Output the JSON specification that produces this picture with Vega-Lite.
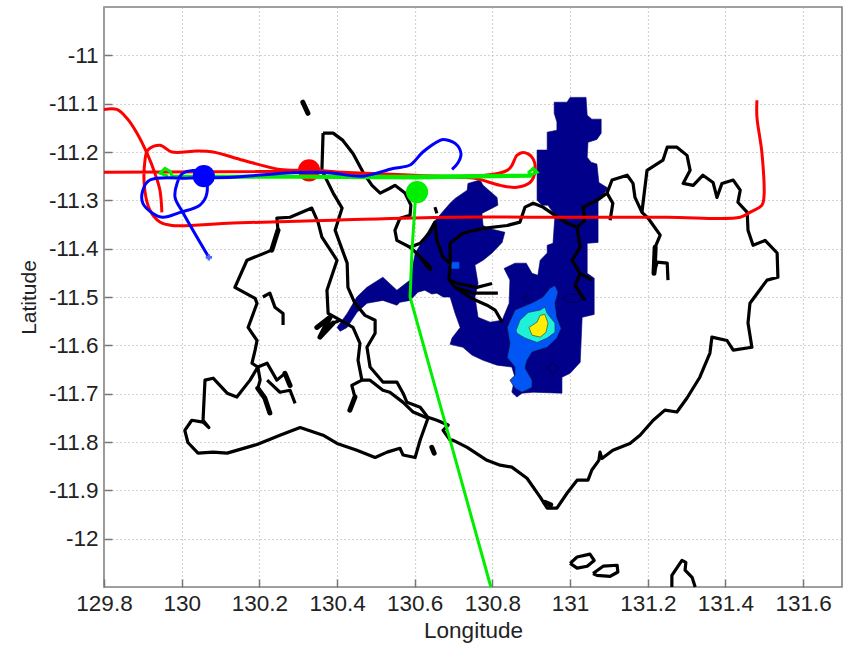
{
"$schema":"https://vega.github.io/schema/vega-lite/v6.json",
"width":738,"height":580,
"autosize":{"type":"none"},
"padding":{"left":104,"top":7,"right":4,"bottom":58},
"background":"white",
"config":{"view":{"stroke":"#808080","strokeWidth":1.6},"font":"Liberation Sans"},
"datasets":{
"regions":[
{"s":"navy","lon":130.959,"lat":-11.097},{"s":"navy","lon":130.992,"lat":-11.097},{"s":"navy","lon":131.000,"lat":-11.087},{"s":"navy","lon":131.041,"lat":-11.087},{"s":"navy","lon":131.044,"lat":-11.124},{"s":"navy","lon":131.056,"lat":-11.132},{"s":"navy","lon":131.080,"lat":-11.132},{"s":"navy","lon":131.080,"lat":-11.161},{"s":"navy","lon":131.069,"lat":-11.174},{"s":"navy","lon":131.046,"lat":-11.180},{"s":"navy","lon":131.044,"lat":-11.211},{"s":"navy","lon":131.054,"lat":-11.221},{"s":"navy","lon":131.069,"lat":-11.225},{"s":"navy","lon":131.074,"lat":-11.263},{"s":"navy","lon":131.098,"lat":-11.275},{"s":"navy","lon":131.072,"lat":-11.300},{"s":"navy","lon":131.072,"lat":-11.387},{"s":"navy","lon":131.044,"lat":-11.389},{"s":"navy","lon":131.044,"lat":-11.451},{"s":"navy","lon":131.062,"lat":-11.461},{"s":"navy","lon":131.062,"lat":-11.536},{"s":"navy","lon":131.031,"lat":-11.542},{"s":"navy","lon":131.026,"lat":-11.635},{"s":"navy","lon":131.000,"lat":-11.658},{"s":"navy","lon":130.979,"lat":-11.666},{"s":"navy","lon":130.979,"lat":-11.699},{"s":"navy","lon":130.905,"lat":-11.697},{"s":"navy","lon":130.876,"lat":-11.699},{"s":"navy","lon":130.863,"lat":-11.707},{"s":"navy","lon":130.850,"lat":-11.697},{"s":"navy","lon":130.858,"lat":-11.666},{"s":"navy","lon":130.850,"lat":-11.645},{"s":"navy","lon":130.812,"lat":-11.641},{"s":"navy","lon":130.776,"lat":-11.631},{"s":"navy","lon":130.747,"lat":-11.620},{"s":"navy","lon":130.724,"lat":-11.604},{"s":"navy","lon":130.691,"lat":-11.598},{"s":"navy","lon":130.696,"lat":-11.585},{"s":"navy","lon":130.717,"lat":-11.563},{"s":"navy","lon":130.704,"lat":-11.534},{"s":"navy","lon":130.691,"lat":-11.500},{"s":"navy","lon":130.673,"lat":-11.500},{"s":"navy","lon":130.657,"lat":-11.492},{"s":"navy","lon":130.644,"lat":-11.494},{"s":"navy","lon":130.626,"lat":-11.486},{"s":"navy","lon":130.608,"lat":-11.490},{"s":"navy","lon":130.588,"lat":-11.507},{"s":"navy","lon":130.562,"lat":-11.511},{"s":"navy","lon":130.554,"lat":-11.517},{"s":"navy","lon":130.518,"lat":-11.507},{"s":"navy","lon":130.477,"lat":-11.513},{"s":"navy","lon":130.451,"lat":-11.532},{"s":"navy","lon":130.426,"lat":-11.563},{"s":"navy","lon":130.408,"lat":-11.571},{"s":"navy","lon":130.400,"lat":-11.563},{"s":"navy","lon":130.426,"lat":-11.534},{"s":"navy","lon":130.451,"lat":-11.500},{"s":"navy","lon":130.477,"lat":-11.480},{"s":"navy","lon":130.518,"lat":-11.459},{"s":"navy","lon":130.554,"lat":-11.486},{"s":"navy","lon":130.588,"lat":-11.465},{"s":"navy","lon":130.601,"lat":-11.410},{"s":"navy","lon":130.647,"lat":-11.347},{"s":"navy","lon":130.691,"lat":-11.306},{"s":"navy","lon":130.704,"lat":-11.296},{"s":"navy","lon":130.735,"lat":-11.279},{"s":"navy","lon":130.737,"lat":-11.265},{"s":"navy","lon":130.768,"lat":-11.258},{"s":"navy","lon":130.776,"lat":-11.269},{"s":"navy","lon":130.812,"lat":-11.294},{"s":"navy","lon":130.814,"lat":-11.310},{"s":"navy","lon":130.773,"lat":-11.327},{"s":"navy","lon":130.776,"lat":-11.352},{"s":"navy","lon":130.789,"lat":-11.358},{"s":"navy","lon":130.832,"lat":-11.366},{"s":"navy","lon":130.825,"lat":-11.387},{"s":"navy","lon":130.799,"lat":-11.409},{"s":"navy","lon":130.776,"lat":-11.424},{"s":"navy","lon":130.755,"lat":-11.434},{"s":"navy","lon":130.763,"lat":-11.472},{"s":"navy","lon":130.755,"lat":-11.500},{"s":"navy","lon":130.763,"lat":-11.542},{"s":"navy","lon":130.794,"lat":-11.552},{"s":"navy","lon":130.825,"lat":-11.548},{"s":"navy","lon":130.843,"lat":-11.513},{"s":"navy","lon":130.845,"lat":-11.465},{"s":"navy","lon":130.830,"lat":-11.441},{"s":"navy","lon":130.858,"lat":-11.430},{"s":"navy","lon":130.887,"lat":-11.430},{"s":"navy","lon":130.902,"lat":-11.451},{"s":"navy","lon":130.917,"lat":-11.455},{"s":"navy","lon":130.923,"lat":-11.424},{"s":"navy","lon":130.941,"lat":-11.409},{"s":"navy","lon":130.941,"lat":-11.393},{"s":"navy","lon":130.956,"lat":-11.389},{"s":"navy","lon":130.961,"lat":-11.331},{"s":"navy","lon":130.943,"lat":-11.310},{"s":"navy","lon":130.928,"lat":-11.310},{"s":"navy","lon":130.915,"lat":-11.300},{"s":"navy","lon":130.915,"lat":-11.196},{"s":"navy","lon":130.941,"lat":-11.196},{"s":"navy","lon":130.941,"lat":-11.159},{"s":"navy","lon":130.966,"lat":-11.155},{"s":"navy","lon":130.966,"lat":-11.138},{"s":"navy","lon":130.959,"lat":-11.120},{"s":"navy","lon":130.959,"lat":-11.097},
{"s":"blue","lon":130.838,"lat":-11.563},{"s":"blue","lon":130.858,"lat":-11.527},{"s":"blue","lon":130.905,"lat":-11.511},{"s":"blue","lon":130.930,"lat":-11.500},{"s":"blue","lon":130.948,"lat":-11.482},{"s":"blue","lon":130.961,"lat":-11.476},{"s":"blue","lon":130.969,"lat":-11.490},{"s":"blue","lon":130.961,"lat":-11.513},{"s":"blue","lon":130.966,"lat":-11.542},{"s":"blue","lon":130.977,"lat":-11.565},{"s":"blue","lon":130.966,"lat":-11.585},{"s":"blue","lon":130.941,"lat":-11.604},{"s":"blue","lon":130.902,"lat":-11.614},{"s":"blue","lon":130.889,"lat":-11.631},{"s":"blue","lon":130.884,"lat":-11.647},{"s":"blue","lon":130.902,"lat":-11.672},{"s":"blue","lon":130.902,"lat":-11.687},{"s":"blue","lon":130.876,"lat":-11.697},{"s":"blue","lon":130.858,"lat":-11.689},{"s":"blue","lon":130.845,"lat":-11.672},{"s":"blue","lon":130.858,"lat":-11.662},{"s":"blue","lon":130.858,"lat":-11.645},{"s":"blue","lon":130.838,"lat":-11.625},{"s":"blue","lon":130.845,"lat":-11.596},{"s":"blue","lon":130.838,"lat":-11.563},
{"s":"blue2","lon":130.686,"lat":-11.432},{"s":"blue2","lon":130.696,"lat":-11.428},{"s":"blue2","lon":130.714,"lat":-11.428},{"s":"blue2","lon":130.714,"lat":-11.441},{"s":"blue2","lon":130.696,"lat":-11.441},{"s":"blue2","lon":130.686,"lat":-11.432},
{"s":"cyan","lon":130.861,"lat":-11.569},{"s":"cyan","lon":130.871,"lat":-11.548},{"s":"cyan","lon":130.892,"lat":-11.532},{"s":"cyan","lon":130.923,"lat":-11.527},{"s":"cyan","lon":130.935,"lat":-11.521},{"s":"cyan","lon":130.941,"lat":-11.534},{"s":"cyan","lon":130.961,"lat":-11.554},{"s":"cyan","lon":130.961,"lat":-11.573},{"s":"cyan","lon":130.941,"lat":-11.585},{"s":"cyan","lon":130.915,"lat":-11.594},{"s":"cyan","lon":130.884,"lat":-11.585},{"s":"cyan","lon":130.863,"lat":-11.575},{"s":"cyan","lon":130.861,"lat":-11.569},
{"s":"yellow","lon":130.894,"lat":-11.563},{"s":"yellow","lon":130.915,"lat":-11.552},{"s":"yellow","lon":130.923,"lat":-11.538},{"s":"yellow","lon":130.935,"lat":-11.536},{"s":"yellow","lon":130.943,"lat":-11.554},{"s":"yellow","lon":130.938,"lat":-11.573},{"s":"yellow","lon":130.923,"lat":-11.583},{"s":"yellow","lon":130.902,"lat":-11.579},{"s":"yellow","lon":130.894,"lat":-11.563}
],
"contours":[
{"s":"c1","lon":130.956,"lat":-11.635},{"s":"c1","lon":130.971,"lat":-11.647},{"s":"c1","lon":130.956,"lat":-11.660},{"s":"c1","lon":130.941,"lat":-11.647},{"s":"c1","lon":130.956,"lat":-11.635},
{"s":"c2","lon":130.887,"lat":-11.496},{"s":"c2","lon":130.894,"lat":-11.503},{"s":"c2","lon":130.887,"lat":-11.509},{"s":"c2","lon":130.879,"lat":-11.503},{"s":"c2","lon":130.887,"lat":-11.496},
{"s":"c3","lon":130.995,"lat":-11.494},{"s":"c3","lon":131.020,"lat":-11.494},{"s":"c3","lon":131.031,"lat":-11.503},{"s":"c3","lon":131.020,"lat":-11.511},{"s":"c3","lon":130.995,"lat":-11.511},{"s":"c3","lon":130.982,"lat":-11.503},{"s":"c3","lon":130.995,"lat":-11.494}
],
"coast":[
{"s":"b","lon":130.634,"lat":-11.751},{"s":"b","lon":130.614,"lat":-11.796},{"s":"b","lon":130.601,"lat":-11.832},{"s":"b","lon":130.570,"lat":-11.827},{"s":"b","lon":130.562,"lat":-11.813},{"s":"b","lon":130.529,"lat":-11.821},{"s":"b","lon":130.498,"lat":-11.832},{"s":"b","lon":130.451,"lat":-11.817},{"s":"b","lon":130.400,"lat":-11.803},{"s":"b","lon":130.364,"lat":-11.786},{"s":"b","lon":130.305,"lat":-11.770},{"s":"b","lon":130.253,"lat":-11.786},{"s":"b","lon":130.194,"lat":-11.805},{"s":"b","lon":130.117,"lat":-11.823},{"s":"b","lon":130.081,"lat":-11.821},{"s":"b","lon":130.042,"lat":-11.823},{"s":"b","lon":130.016,"lat":-11.801},{"s":"b","lon":130.008,"lat":-11.776},{"s":"b","lon":130.026,"lat":-11.755},{"s":"b","lon":130.055,"lat":-11.759},{"s":"b","lon":130.070,"lat":-11.770},{"s":"b","lon":130.055,"lat":-11.755},{"s":"b","lon":130.060,"lat":-11.672},{"s":"b","lon":130.081,"lat":-11.668},{"s":"b","lon":130.117,"lat":-11.699},{"s":"b","lon":130.142,"lat":-11.707},{"s":"b","lon":130.176,"lat":-11.672},{"s":"b","lon":130.196,"lat":-11.645},{"s":"b","lon":130.181,"lat":-11.637},{"s":"b","lon":130.189,"lat":-11.610},{"s":"b","lon":130.194,"lat":-11.590},{"s":"b","lon":130.171,"lat":-11.563},{"s":"b","lon":130.194,"lat":-11.513},{"s":"b","lon":130.189,"lat":-11.503},{"s":"b","lon":130.137,"lat":-11.480},{"s":"b","lon":130.168,"lat":-11.424},{"s":"b","lon":130.232,"lat":-11.403},{"s":"b","lon":130.248,"lat":-11.362},{"s":"b","lon":130.245,"lat":-11.337},{"s":"b","lon":130.279,"lat":-11.335},{"s":"b","lon":130.335,"lat":-11.316},{"s":"b","lon":130.351,"lat":-11.345},{"s":"b","lon":130.361,"lat":-11.376},{"s":"b","lon":130.400,"lat":-11.424},{"s":"b","lon":130.374,"lat":-11.486},{"s":"b","lon":130.377,"lat":-11.534},{"s":"b","lon":130.408,"lat":-11.548},{"s":"b","lon":130.441,"lat":-11.563},{"s":"b","lon":130.459,"lat":-11.596},{"s":"b","lon":130.454,"lat":-11.631},{"s":"b","lon":130.464,"lat":-11.672},{"s":"b","lon":130.485,"lat":-11.672},{"s":"b","lon":130.518,"lat":-11.693},{"s":"b","lon":130.536,"lat":-11.697},{"s":"b","lon":130.570,"lat":-11.718},{"s":"b","lon":130.596,"lat":-11.738},{"s":"b","lon":130.634,"lat":-11.751},
{"s":"m","lon":130.364,"lat":-11.161},{"s":"m","lon":130.390,"lat":-11.161},{"s":"m","lon":130.415,"lat":-11.176},{"s":"m","lon":130.441,"lat":-11.203},{"s":"m","lon":130.467,"lat":-11.242},{"s":"m","lon":130.490,"lat":-11.269},{"s":"m","lon":130.511,"lat":-11.285},{"s":"m","lon":130.536,"lat":-11.275},{"s":"m","lon":130.549,"lat":-11.269},{"s":"m","lon":130.575,"lat":-11.285},{"s":"m","lon":130.590,"lat":-11.310},{"s":"m","lon":130.588,"lat":-11.331},{"s":"m","lon":130.562,"lat":-11.337},{"s":"m","lon":130.549,"lat":-11.362},{"s":"m","lon":130.554,"lat":-11.383},{"s":"m","lon":130.588,"lat":-11.397},{"s":"m","lon":130.614,"lat":-11.389},{"s":"m","lon":130.639,"lat":-11.366},{"s":"m","lon":130.652,"lat":-11.345},{"s":"m","lon":130.657,"lat":-11.383},{"s":"m","lon":130.673,"lat":-11.418},{"s":"m","lon":130.691,"lat":-11.430},{"s":"m","lon":130.688,"lat":-11.465},{"s":"m","lon":130.704,"lat":-11.480},{"s":"m","lon":130.747,"lat":-11.503},
{"s":"m2","lon":130.691,"lat":-11.430},{"s":"m2","lon":130.691,"lat":-11.389},{"s":"m2","lon":130.724,"lat":-11.368},{"s":"m2","lon":130.776,"lat":-11.358},{"s":"m2","lon":130.838,"lat":-11.352},{"s":"m2","lon":130.871,"lat":-11.345},{"s":"m2","lon":130.884,"lat":-11.314},{"s":"m2","lon":130.905,"lat":-11.306},{"s":"m2","lon":130.930,"lat":-11.314},{"s":"m2","lon":130.961,"lat":-11.331},{"s":"m2","lon":130.992,"lat":-11.347},{"s":"m2","lon":131.018,"lat":-11.356},{"s":"m2","lon":131.038,"lat":-11.341},{"s":"m2","lon":131.033,"lat":-11.314},{"s":"m2","lon":131.069,"lat":-11.300},{"s":"m2","lon":131.095,"lat":-11.285},{"s":"m2","lon":131.108,"lat":-11.258},{"s":"m2","lon":131.147,"lat":-11.248},{"s":"m2","lon":131.162,"lat":-11.265},{"s":"m2","lon":131.167,"lat":-11.294},{"s":"m2","lon":131.185,"lat":-11.325},{"s":"m2","lon":131.188,"lat":-11.304},{"s":"m2","lon":131.198,"lat":-11.238},{"s":"m2","lon":131.239,"lat":-11.217},{"s":"m2","lon":131.250,"lat":-11.190},{"s":"m2","lon":131.275,"lat":-11.190},{"s":"m2","lon":131.301,"lat":-11.207},{"s":"m2","lon":131.309,"lat":-11.238},{"s":"m2","lon":131.291,"lat":-11.265},{"s":"m2","lon":131.317,"lat":-11.269},{"s":"m2","lon":131.342,"lat":-11.248},{"s":"m2","lon":131.368,"lat":-11.263},{"s":"m2","lon":131.378,"lat":-11.294},{"s":"m2","lon":131.391,"lat":-11.265},{"s":"m2","lon":131.420,"lat":-11.258},{"s":"m2","lon":131.438,"lat":-11.279},{"s":"m2","lon":131.432,"lat":-11.304},{"s":"m2","lon":131.456,"lat":-11.325},{"s":"m2","lon":131.458,"lat":-11.362},{"s":"m2","lon":131.471,"lat":-11.393},{"s":"m2","lon":131.502,"lat":-11.383},{"s":"m2","lon":131.533,"lat":-11.409},{"s":"m2","lon":131.535,"lat":-11.459},{"s":"m2","lon":131.507,"lat":-11.465},{"s":"m2","lon":131.463,"lat":-11.513},{"s":"m2","lon":131.458,"lat":-11.554},{"s":"m2","lon":131.468,"lat":-11.604},{"s":"m2","lon":131.420,"lat":-11.610},{"s":"m2","lon":131.404,"lat":-11.590},{"s":"m2","lon":131.365,"lat":-11.583},{"s":"m2","lon":131.360,"lat":-11.616},{"s":"m2","lon":131.334,"lat":-11.666},{"s":"m2","lon":131.301,"lat":-11.709},{"s":"m2","lon":131.275,"lat":-11.738},{"s":"m2","lon":131.244,"lat":-11.734},{"s":"m2","lon":131.214,"lat":-11.755},{"s":"m2","lon":131.180,"lat":-11.786},{"s":"m2","lon":131.154,"lat":-11.803},{"s":"m2","lon":131.110,"lat":-11.817},{"s":"m2","lon":131.082,"lat":-11.834},{"s":"m2","lon":131.077,"lat":-11.821},{"s":"m2","lon":131.074,"lat":-11.838},{"s":"m2","lon":131.056,"lat":-11.858},{"s":"m2","lon":131.046,"lat":-11.879},{"s":"m2","lon":131.018,"lat":-11.879},{"s":"m2","lon":130.992,"lat":-11.906},{"s":"m2","lon":130.966,"lat":-11.937},{"s":"m2","lon":130.941,"lat":-11.937},{"s":"m2","lon":130.923,"lat":-11.914},{"s":"m2","lon":130.889,"lat":-11.875},{"s":"m2","lon":130.850,"lat":-11.852},{"s":"m2","lon":130.820,"lat":-11.848},{"s":"m2","lon":130.786,"lat":-11.838},{"s":"m2","lon":130.735,"lat":-11.811},{"s":"m2","lon":130.698,"lat":-11.796},{"s":"m2","lon":130.691,"lat":-11.796},{"s":"m2","lon":130.673,"lat":-11.776},{"s":"m2","lon":130.686,"lat":-11.765},{"s":"m2","lon":130.657,"lat":-11.755},{"s":"m2","lon":130.634,"lat":-11.749},{"s":"m2","lon":130.614,"lat":-11.728},{"s":"m2","lon":130.580,"lat":-11.718},{"s":"m2","lon":130.570,"lat":-11.699},{"s":"m2","lon":130.554,"lat":-11.676},{"s":"m2","lon":130.518,"lat":-11.676},{"s":"m2","lon":130.485,"lat":-11.645},{"s":"m2","lon":130.477,"lat":-11.604},{"s":"m2","lon":130.498,"lat":-11.575},{"s":"m2","lon":130.498,"lat":-11.548},{"s":"m2","lon":130.472,"lat":-11.538},{"s":"m2","lon":130.446,"lat":-11.513},{"s":"m2","lon":130.428,"lat":-11.480},{"s":"m2","lon":130.426,"lat":-11.430},{"s":"m2","lon":130.395,"lat":-11.362},{"s":"m2","lon":130.413,"lat":-11.316},{"s":"m2","lon":130.390,"lat":-11.285},{"s":"m2","lon":130.361,"lat":-11.238},{"s":"m2","lon":130.364,"lat":-11.161},
{"s":"b1","lon":130.209,"lat":-11.500},{"s":"b1","lon":130.227,"lat":-11.492},{"s":"b1","lon":130.240,"lat":-11.521},{"s":"b1","lon":130.261,"lat":-11.534},{"s":"b1","lon":130.261,"lat":-11.558},
{"s":"b2","lon":130.196,"lat":-11.645},{"s":"b2","lon":130.202,"lat":-11.672},{"s":"b2","lon":130.196,"lat":-11.689},{"s":"b2","lon":130.214,"lat":-11.709},{"s":"b2","lon":130.227,"lat":-11.740},
{"s":"b3","lon":130.196,"lat":-11.645},{"s":"b3","lon":130.220,"lat":-11.637},{"s":"b3","lon":130.245,"lat":-11.672},{"s":"b3","lon":130.266,"lat":-11.658},{"s":"b3","lon":130.279,"lat":-11.683},
{"s":"b4","lon":130.220,"lat":-11.672},{"s":"b4","lon":130.253,"lat":-11.697},{"s":"b4","lon":130.279,"lat":-11.693},{"s":"b4","lon":130.292,"lat":-11.720},
{"s":"b5","lon":130.348,"lat":-11.563},{"s":"b5","lon":130.382,"lat":-11.542},{"s":"b5","lon":130.356,"lat":-11.583},{"s":"b5","lon":130.390,"lat":-11.554},{"s":"b5","lon":130.408,"lat":-11.548},
{"s":"b6","lon":130.464,"lat":-11.672},{"s":"b6","lon":130.438,"lat":-11.683},{"s":"b6","lon":130.446,"lat":-11.707},{"s":"b6","lon":130.433,"lat":-11.734},
{"s":"m3","lon":130.588,"lat":-11.397},{"s":"m3","lon":130.606,"lat":-11.410},{"s":"m3","lon":130.639,"lat":-11.441},
{"s":"m4","lon":130.688,"lat":-11.465},{"s":"m4","lon":130.711,"lat":-11.472},{"s":"m4","lon":130.760,"lat":-11.480},{"s":"m4","lon":130.799,"lat":-11.472},
{"s":"m5","lon":130.704,"lat":-11.480},{"s":"m5","lon":130.750,"lat":-11.492},{"s":"m5","lon":130.814,"lat":-11.492},
{"s":"m6","lon":130.747,"lat":-11.503},{"s":"m6","lon":130.786,"lat":-11.517},{"s":"m6","lon":130.807,"lat":-11.527},{"s":"m6","lon":130.825,"lat":-11.552},
{"s":"m7","lon":131.018,"lat":-11.356},{"s":"m7","lon":131.026,"lat":-11.397},{"s":"m7","lon":131.005,"lat":-11.424},{"s":"m7","lon":131.026,"lat":-11.451},{"s":"m7","lon":131.013,"lat":-11.476},{"s":"m7","lon":131.038,"lat":-11.507},
{"s":"m7b","lon":131.026,"lat":-11.451},{"s":"m7b","lon":131.056,"lat":-11.465},
{"s":"m8","lon":131.185,"lat":-11.325},{"s":"m8","lon":131.201,"lat":-11.337},{"s":"m8","lon":131.232,"lat":-11.372},{"s":"m8","lon":131.219,"lat":-11.397},{"s":"m8","lon":131.216,"lat":-11.451},{"s":"m8","lon":131.224,"lat":-11.428},{"s":"m8","lon":131.250,"lat":-11.430},{"s":"m8","lon":131.252,"lat":-11.465},
{"s":"m9","lon":131.095,"lat":-11.285},{"s":"m9","lon":131.110,"lat":-11.306},{"s":"m9","lon":131.103,"lat":-11.341},
{"s":"i1","lon":130.312,"lat":-11.097},{"s":"i1","lon":130.325,"lat":-11.120},
{"s":"i2","lon":130.652,"lat":-11.314},{"s":"i2","lon":130.657,"lat":-11.327},
{"s":"i3","lon":130.644,"lat":-11.811},{"s":"i3","lon":130.650,"lat":-11.823},
{"s":"i4","lon":131.000,"lat":-12.051},{"s":"i4","lon":131.018,"lat":-12.038},{"s":"i4","lon":131.051,"lat":-12.032},{"s":"i4","lon":131.062,"lat":-12.045},{"s":"i4","lon":131.044,"lat":-12.057},{"s":"i4","lon":131.018,"lat":-12.061},{"s":"i4","lon":131.000,"lat":-12.051},
{"s":"i5","lon":131.059,"lat":-12.072},{"s":"i5","lon":131.085,"lat":-12.057},{"s":"i5","lon":131.121,"lat":-12.055},{"s":"i5","lon":131.123,"lat":-12.069},{"s":"i5","lon":131.103,"lat":-12.078},{"s":"i5","lon":131.069,"lat":-12.076},{"s":"i5","lon":131.059,"lat":-12.072},
{"s":"i6","lon":131.262,"lat":-12.100},{"s":"i6","lon":131.262,"lat":-12.076},{"s":"i6","lon":131.288,"lat":-12.045},{"s":"i6","lon":131.298,"lat":-12.049},{"s":"i6","lon":131.296,"lat":-12.065},{"s":"i6","lon":131.314,"lat":-12.080},{"s":"i6","lon":131.322,"lat":-12.100}
],
"thick":[
{"s":"t1","lon":130.232,"lat":-11.403},{"s":"t1","lon":130.248,"lat":-11.362},
{"s":"t2","lon":130.348,"lat":-11.563},{"s":"t2","lon":130.382,"lat":-11.542},{"s":"t2","lon":130.356,"lat":-11.583},{"s":"t2","lon":130.390,"lat":-11.554},
{"s":"t3","lon":130.433,"lat":-11.734},{"s":"t3","lon":130.446,"lat":-11.707},
{"s":"t4","lon":130.196,"lat":-11.689},{"s":"t4","lon":130.214,"lat":-11.709},{"s":"t4","lon":130.227,"lat":-11.740},
{"s":"t5","lon":130.626,"lat":-11.428},{"s":"t5","lon":130.639,"lat":-11.441},
{"s":"t6","lon":131.219,"lat":-11.397},{"s":"t6","lon":131.216,"lat":-11.451},
{"s":"t7","lon":130.266,"lat":-11.658},{"s":"t7","lon":130.279,"lat":-11.683},
{"s":"t8","lon":130.312,"lat":-11.097},{"s":"t8","lon":130.325,"lat":-11.120},
{"s":"t9","lon":130.644,"lat":-11.811},{"s":"t9","lon":130.650,"lat":-11.823},
{"s":"t10","lon":130.935,"lat":-11.925},{"s":"t10","lon":130.950,"lat":-11.930}
],
"red":[
{"s":"r1","lon":129.800,"lat":-11.112},{"s":"r1","lon":129.833,"lat":-11.112},{"s":"r1","lon":129.859,"lat":-11.130},{"s":"r1","lon":129.885,"lat":-11.161},{"s":"r1","lon":129.911,"lat":-11.203},{"s":"r1","lon":129.931,"lat":-11.244},{"s":"r1","lon":129.944,"lat":-11.279},{"s":"r1","lon":129.949,"lat":-11.325},
{"s":"r2","lon":129.800,"lat":-11.242},{"s":"r2","lon":130.305,"lat":-11.240},{"s":"r2","lon":130.838,"lat":-11.238},{"s":"r2","lon":130.863,"lat":-11.207},{"s":"r2","lon":130.879,"lat":-11.201},{"s":"r2","lon":130.902,"lat":-11.211},{"s":"r2","lon":130.910,"lat":-11.238},{"s":"r2","lon":130.897,"lat":-11.263},{"s":"r2","lon":130.863,"lat":-11.273},{"s":"r2","lon":130.820,"lat":-11.269},{"s":"r2","lon":130.750,"lat":-11.254},{"s":"r2","lon":130.647,"lat":-11.252},{"s":"r2","lon":130.511,"lat":-11.248},{"s":"r2","lon":130.338,"lat":-11.238},{"s":"r2","lon":130.253,"lat":-11.236},{"s":"r2","lon":130.158,"lat":-11.217},{"s":"r2","lon":130.081,"lat":-11.200},{"s":"r2","lon":130.039,"lat":-11.198},{"s":"r2","lon":129.975,"lat":-11.200},{"s":"r2","lon":129.944,"lat":-11.186},{"s":"r2","lon":129.913,"lat":-11.196},{"s":"r2","lon":129.905,"lat":-11.221},{"s":"r2","lon":129.905,"lat":-11.279},{"s":"r2","lon":129.918,"lat":-11.320},{"s":"r2","lon":129.944,"lat":-11.345},{"s":"r2","lon":129.975,"lat":-11.352},{"s":"r2","lon":130.132,"lat":-11.347},{"s":"r2","lon":130.390,"lat":-11.341},{"s":"r2","lon":130.691,"lat":-11.335},{"s":"r2","lon":130.992,"lat":-11.335},{"s":"r2","lon":131.250,"lat":-11.335},{"s":"r2","lon":131.438,"lat":-11.335},{"s":"r2","lon":131.463,"lat":-11.325},{"s":"r2","lon":131.494,"lat":-11.310},{"s":"r2","lon":131.499,"lat":-11.294},{"s":"r2","lon":131.494,"lat":-11.203},{"s":"r2","lon":131.481,"lat":-11.128},{"s":"r2","lon":131.481,"lat":-11.093}
],
"green":[
{"s":"g1","lon":130.796,"lat":-12.100},{"s":"g1","lon":130.691,"lat":-11.796},{"s":"g1","lon":130.662,"lat":-11.714},{"s":"g1","lon":130.588,"lat":-11.500},{"s":"g1","lon":130.593,"lat":-11.403},{"s":"g1","lon":130.601,"lat":-11.306},{"s":"g1","lon":130.603,"lat":-11.281},
{"s":"g2","lon":129.965,"lat":-11.250},{"s":"g2","lon":129.944,"lat":-11.244},{"s":"g2","lon":129.957,"lat":-11.234},{"s":"g2","lon":129.970,"lat":-11.240},{"s":"g2","lon":129.975,"lat":-11.250},{"s":"g2","lon":130.305,"lat":-11.250},{"s":"g2","lon":130.562,"lat":-11.250},{"s":"g2","lon":130.897,"lat":-11.248},{"s":"g2","lon":130.915,"lat":-11.242},{"s":"g2","lon":130.905,"lat":-11.234},{"s":"g2","lon":130.894,"lat":-11.242},{"s":"g2","lon":130.897,"lat":-11.250},{"s":"g2","lon":130.603,"lat":-11.254},{"s":"g2","lon":130.305,"lat":-11.252},{"s":"g2","lon":129.975,"lat":-11.252}
],
"bluetrack":[
{"lon":130.070,"lat":-11.418},{"lon":130.003,"lat":-11.325},{"lon":129.983,"lat":-11.294},{"lon":129.988,"lat":-11.265},{"lon":130.003,"lat":-11.244},{"lon":130.055,"lat":-11.242},{"lon":130.065,"lat":-11.285},{"lon":130.047,"lat":-11.310},{"lon":129.996,"lat":-11.325},{"lon":129.952,"lat":-11.335},{"lon":129.926,"lat":-11.327},{"lon":129.900,"lat":-11.306},{"lon":129.900,"lat":-11.279},{"lon":129.918,"lat":-11.258},{"lon":130.021,"lat":-11.254},{"lon":130.132,"lat":-11.252},{"lon":130.261,"lat":-11.244},{"lon":130.338,"lat":-11.242},{"lon":130.390,"lat":-11.244},{"lon":130.467,"lat":-11.250},{"lon":130.544,"lat":-11.234},{"lon":130.588,"lat":-11.227},{"lon":130.621,"lat":-11.200},{"lon":130.665,"lat":-11.176},{"lon":130.673,"lat":-11.174},{"lon":130.704,"lat":-11.182},{"lon":130.719,"lat":-11.203},{"lon":130.711,"lat":-11.223},{"lon":130.696,"lat":-11.236}
]
},
"encoding":{
"x":{"field":"lon","type":"quantitative","scale":{"domain":[129.8,131.7],"nice":false,"zero":false},
 "axis":{"values":[129.8,130,130.2,130.4,130.6,130.8,131,131.2,131.4,131.6],"labelExpr":"datum.value+''","title":"Longitude","grid":true,"gridColor":"#aaaaaa","gridDash":[1,3],"gridWidth":1.2,"tickColor":"#777777","tickSize":-8,"tickWidth":1.5,"domain":false,"labelFont":"Liberation Sans","labelFontSize":22.5,"labelColor":"#222222","labelPadding":13,"labelOverlap":false,"labelFlush":false,"titleFont":"Liberation Sans","titleFontSize":22.5,"titleFontWeight":"normal","titleColor":"#222222","titlePadding":5}},
"y":{"field":"lat","type":"quantitative","scale":{"domain":[-12.1,-10.9],"nice":false,"zero":false},
 "axis":{"values":[-11,-11.1,-11.2,-11.3,-11.4,-11.5,-11.6,-11.7,-11.8,-11.9,-12],"labelExpr":"datum.value+''","title":"Latitude","grid":true,"gridColor":"#aaaaaa","gridDash":[1,3],"gridWidth":1.2,"tickColor":"#777777","tickSize":-8,"tickWidth":1.5,"domain":false,"labelFont":"Liberation Sans","labelFontSize":22.5,"labelColor":"#222222","labelPadding":14,"labelOverlap":false,"titleFont":"Liberation Sans","titleFontSize":21,"titleFontWeight":"normal","titleColor":"#222222","titlePadding":9}}
},
"layer":[
{"data":{"name":"regions"},"transform":[{"filter":"datum.s=='navy'"}],"mark":{"type":"line","order":false,"fill":"#00008b","stroke":"#00006a","strokeWidth":0.6}},
{"data":{"name":"regions"},"transform":[{"filter":"datum.s=='blue'"}],"mark":{"type":"line","order":false,"fill":"#0055f5","stroke":"#111133","strokeWidth":0.6}},
{"data":{"name":"regions"},"transform":[{"filter":"datum.s=='blue2'"}],"mark":{"type":"line","order":false,"fill":"#0055f5","stroke":"#0055f5","strokeWidth":0.6}},
{"data":{"name":"regions"},"transform":[{"filter":"datum.s=='cyan'"}],"mark":{"type":"line","order":false,"fill":"#1ff0d8","stroke":"#113355","strokeWidth":0.6}},
{"data":{"name":"regions"},"transform":[{"filter":"datum.s=='yellow'"}],"mark":{"type":"line","order":false,"fill":"#ffee00","stroke":"#333322","strokeWidth":0.6}},
{"data":{"name":"contours"},"mark":{"type":"line","order":false,"stroke":"#000033","strokeWidth":0.8},"encoding":{"detail":{"field":"s"}}},
{"data":{"name":"coast"},"mark":{"type":"line","order":false,"stroke":"#000000","strokeWidth":3.2,"strokeJoin":"round"},"encoding":{"detail":{"field":"s"}}},
{"data":{"name":"thick"},"mark":{"type":"line","order":false,"stroke":"#000000","strokeWidth":5,"strokeCap":"round","strokeJoin":"round"},"encoding":{"detail":{"field":"s"}}},
{"data":{"name":"red"},"mark":{"type":"line","order":false,"stroke":"#ff0000","strokeWidth":3,"interpolate":"catmull-rom"},"encoding":{"detail":{"field":"s"}}},
{"data":{"values":[{"lon":130.328,"lat":-11.238}]},"mark":{"type":"circle","size":490,"color":"#ff0000","opacity":1}},
{"data":{"name":"green"},"mark":{"type":"line","order":false,"stroke":"#00ee00","strokeWidth":3},"encoding":{"detail":{"field":"s"}}},
{"data":{"values":[{"lon":130.606,"lat":-11.283}]},"mark":{"type":"circle","size":490,"color":"#00ee00","opacity":1}},
{"data":{"name":"bluetrack"},"mark":{"type":"line","order":false,"stroke":"#0000ff","strokeWidth":3,"interpolate":"catmull-rom"}},
{"data":{"values":[{"lon":130.057,"lat":-11.250}]},"mark":{"type":"circle","size":490,"color":"#0000ff","opacity":1}},
{"data":{"values":[{"lon":130.070,"lat":-11.418}]},"mark":{"type":"point","shape":"cross","size":40,"color":"#5566ff","filled":true,"opacity":1}}
]
}
